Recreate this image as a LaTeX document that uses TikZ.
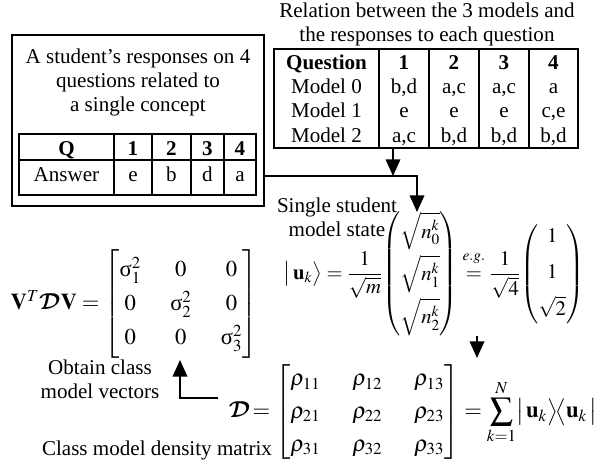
\documentclass[tikz,border=0pt]{standalone}
\usepackage{amsmath}
\usepackage{mathptmx}
\usepackage{fontspec}
\setmainfont{Liberation Serif}
\usepackage{tikz}
\usetikzlibrary{arrows.meta,positioning,calc}
\DeclareMathAlphabet{\mathbcal}{OMS}{cmsy}{b}{n}
\newcommand{\sig}{\text{σ}}
\newcommand{\Dm}{\mathbcal{D}}
\tikzset{
  flow/.style={-{Triangle[length=12.5pt,width=11pt]},line width=1.1pt},
  frame/.style={draw,line width=1.1pt,inner sep=0pt},
  grid/.style={line width=1.1pt},
  tabframe/.style={draw,line width=1.5pt,inner sep=0pt},
  cell/.style={inner sep=0pt,text height=11pt,text depth=3.5pt,font=\fontsize{15.8}{18}\selectfont},
  hcell/.style={cell,font=\fontsize{15.8}{18}\selectfont\bfseries},
  label/.style={inner sep=0pt,align=center,font=\fontsize{15.8}{18}\selectfont},
  eqn/.style={inner sep=0pt,font=\fontsize{17}{20.4}\selectfont},
  eqnsmall/.style={eqn,font=\fontsize{15.5}{18.6}\selectfont},
}

\begin{document}
\begin{tikzpicture}[x=.75pt,y=-.75pt]
  \useasboundingbox (0,0) rectangle (597,470);

  % one student's answers
  \node[frame,minimum width=189pt,minimum height=128.25pt] (student) at (138,120.5) {};
  \node[label] (stitle) at (138,82) {A student's responses on 4\\questions related to\\a single concept};
  \node[tabframe,minimum width=177.75pt,minimum height=45.75pt] (ans) at (137.5,164.5) {};
  \foreach \x in {114,152,191,224}
    \draw[grid] (ans.north -| \x,0) -- (ans.south -| \x,0);
  \draw[grid] (ans.west |- 0,160) -- (ans.east |- 0,160);
  \foreach \t/\x [count=\i] in {Q/66.5,1/133,2/171.5,3/207.5,4/240}
    \node[hcell] (qa\i) at (\x,151) {\t};
  \foreach \t [count=\i] in {Answer,e,b,d,a}
    \node[cell] (ra\i) at (qa\i |- 0,177) {\t};

  % models vs responses
  \node[label] (rtitle) at (427,24.5) {Relation between the 3 models and\\the responses to each question};
  \node[tabframe,minimum width=228pt,minimum height=74.25pt] (rel) at (426,98.5) {};
  \foreach \x in {379,429,479,529}
    \draw[grid] (rel.north -| \x,0) -- (rel.south -| \x,0);
  \foreach \t/\x [count=\i] in {Question/326.5,1/404,2/454,3/504,4/553.5}
    \node[hcell] (qh\i) at (\x,65) {\t};
  \foreach \t [count=\i] in {Model 0,{b,d},{a,c},{a,c},a}
    \node[cell] (ma\i) at (qh\i |- 0,89) {\t};
  \foreach \t [count=\i] in {Model 1,e,e,e,{c,e}}
    \node[cell] (mb\i) at (qh\i |- 0,113) {\t};
  \foreach \t [count=\i] in {Model 2,{a,c},{b,d},{b,d},{b,d}}
    \node[cell] (mc\i) at (qh\i |- 0,137.5) {\t};

  % state vector
  \node[label] (slabel) at (337,217.5) {Single student\\model state};
  \node[eqnsmall] (ustate) at (434,274) {$\bigl|\,\mathbf{u}_k\bigr\rangle=\dfrac{1}{\sqrt{m}}\!
    \left(\begin{matrix}\sqrt{n_0^k}\\[7pt]\sqrt{n_1^k}\\[7pt]\sqrt{n_2^k}\end{matrix}\right)
    \overset{\raisebox{5pt}{$\scriptstyle e.g.$}}{=}\dfrac{1}{\sqrt{4}}\!
    \left(\begin{matrix}1\\[8pt]1\\[8pt]\sqrt{2}\end{matrix}\right)$};

  \coordinate (merge) at (393,176);
  \coordinate (sttip) at (417,212);
  \draw[flow] (rel.south -| merge) -- (merge);
  \draw[flow] (student.east |- merge) -| (sttip);

  % density matrix
  \node[eqn] (dmat) at (413,412) {$\Dm\!=\setlength{\arraycolsep}{12pt}\renewcommand{\arraystretch}{1.2}
    \left[\begin{matrix}\rho_{11}&\rho_{12}&\rho_{13}\\\rho_{21}&\rho_{22}&\rho_{23}\\\rho_{31}&\rho_{32}&\rho_{33}\end{matrix}\right]
    =\displaystyle\sum_{k=1}^{N}\bigl|\,\mathbf{u}_k\bigr\rangle\!\bigl\langle\mathbf{u}_k\,\bigr|$};
  \node[label] (cmd) at (157,450) {Class model density matrix};
  \coordinate (dtip) at (477,358);
  \draw[flow] (ustate.south -| dtip) -- (dtip);

  % class model vectors
  \node[eqn] (vdv) at (134,304) {$\mathbf{V}^{T}\Dm\mathbf{V}=\setlength{\arraycolsep}{11pt}\renewcommand{\arraystretch}{1.25}
    \left[\begin{matrix}\sig_1^2&0&0\\0&\sig_2^2&0\\0&0&\sig_3^2\end{matrix}\right]$};
  \node[label] (obtain) at (100,379.5) {Obtain class\\model vectors};
  \coordinate (vtip) at (180,360);
  \draw[flow] ([shift={(-8pt,10.5pt)}]dmat.west) -| (vtip);
\end{tikzpicture}
\end{document}
